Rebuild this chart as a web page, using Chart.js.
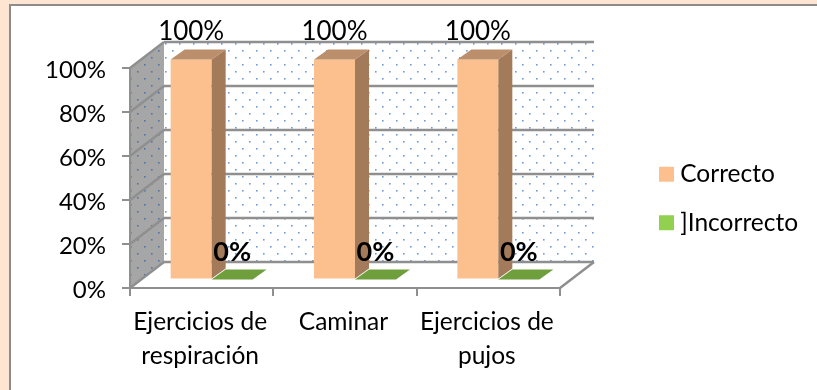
<!DOCTYPE html>
<html lang="es">
<head>
<meta charset="utf-8">
<title>Ejercicios</title>
<style>
  html, body { margin: 0; height: 100%; background: #fde5d2; overflow: hidden; }
  #marco { position: absolute; left: 9px; top: 4px; right: 0; bottom: 0; background: #fff; border-left: 2px solid #8c8c8c; border-top: 2px solid #8c8c8c; }
  #grafico { position: absolute; left: 0; top: 0; }
</style>
<script src="https://cdn.jsdelivr.net/npm/chart.js@4"></script>
</head>
<body>
<div id="marco"></div>
<canvas id="grafico" width="817" height="390"></canvas>
<script>
const categorias = [['Ejercicios de', 'respiración'], 'Caminar', ['Ejercicios de', 'pujos']]
const correcto = [100, 100, 100]
const incorrecto = [0, 0, 0]
const ticksY = [0, 20, 40, 60, 80, 100]

const FUENTE = 'Lato, Carlito, sans-serif'
const GRIS = '#8f8f8f'

// fondo: pared, suelo (desplazamiento de la caja) y barras (dentro de la caja)
const cajaX = 34, cajaY = -26
const barraX = 10, barraY = -8.5
const fondoX = 14, fondoY = -10

function puntos(pattern) {
    const t = document.createElement('canvas')
    t.width = 14
    t.height = 14
    const c = t.getContext('2d')
    c.fillStyle = pattern
    c.fillRect(11, 1, 1.6, 1.6)
    c.fillRect(4, 8, 1.6, 1.6)
    return t
}

function poligono(ctx, pts, relleno) {
    ctx.beginPath()
    pts.forEach((p, i) => i ? ctx.lineTo(p[0], p[1]) : ctx.moveTo(p[0], p[1]))
    ctx.closePath()
    ctx.fillStyle = relleno
    ctx.fill()
}

function linea(ctx, x1, y1, x2, y2) {
    ctx.beginPath()
    ctx.moveTo(x1, y1)
    ctx.lineTo(x2, y2)
    ctx.stroke()
}

const caja3d = {
    id: 'caja3d',
    afterLayout(chart) {
        // la leyenda va a la derecha, fuera de la zona de trazado
        const l = chart.legend
        l.left = 665 - chart.options.plugins.legend.labels.padding
        l.right = 817
        l.top = 100
        l.bottom = 297
    },
    beforeDraw(chart) {
        const ctx = chart.ctx
        const { left, right, top, bottom } = chart.chartArea
        const pared = [[left + cajaX, top + cajaY], [right + cajaX, top + cajaY], [right + cajaX, bottom + cajaY], [left + cajaX, bottom + cajaY]]
        const lateral = [[left, top], [left + cajaX, top + cajaY], [left + cajaX, bottom + cajaY], [left, bottom]]

        poligono(ctx, pared, ctx.createPattern(puntos('#6f9bd6'), 'repeat'))
        poligono(ctx, lateral, '#a6a6a6')
        poligono(ctx, lateral, ctx.createPattern(puntos('#4f74a8'), 'repeat'))

        ctx.save()
        ctx.strokeStyle = GRIS
        ctx.lineWidth = 2.5
        ticksY.forEach(v => {
            const y = chart.scales.y.getPixelForValue(v)
            linea(ctx, left, y, left + cajaX, y + cajaY)
            linea(ctx, left + cajaX, y + cajaY, right + cajaX, y + cajaY)
        })
        linea(ctx, right, bottom, right + cajaX, bottom + cajaY)
        ctx.restore()
    },
    beforeDatasetsDraw(chart) {
        chart.ctx.save()
        chart.ctx.translate(barraX, barraY)
    },
    afterDatasetsDraw(chart) {
        const ctx = chart.ctx
        const caras = [['#a37b5a', '#bb8f6b'], ['#6f9f3c', '#6f9f3c']]
        chart.data.datasets.forEach((d, i) => {
            chart.getDatasetMeta(i).data.forEach(b => {
                const x1 = b.x - b.width / 2, x2 = b.x + b.width / 2
                if (b.base - b.y > 0) {
                    poligono(ctx, [[x2, b.y], [x2 + fondoX, b.y + fondoY], [x2 + fondoX, b.base + fondoY], [x2, b.base]], caras[i][0])
                }
                poligono(ctx, [[x1, b.y], [x2, b.y], [x2 + fondoX, b.y + fondoY], [x1 + fondoX, b.y + fondoY]], caras[i][1])
            })
        })
        ctx.restore()
    },
    afterDraw(chart) {
        // etiquetas de valor sobre cada barra
        const ctx = chart.ctx
        ctx.save()
        ctx.textAlign = 'center'
        ctx.textBaseline = 'middle'
        ctx.fillStyle = '#000'
        chart.data.datasets.forEach((d, i) => {
            ctx.font = (i ? 'bold 27px ' : '26px ') + FUENTE
            chart.getDatasetMeta(i).data.forEach((b, j) => {
                ctx.fillText(d.data[j] + '%', b.x + barraX, b.y + barraY - 28 + (i ? 1 : 0))
            })
        })
        ctx.restore()
    }
}

new Chart(document.getElementById('grafico'), {
    type: 'bar',
    data: {
        labels: categorias,
        datasets: [
            { label: 'Correcto', data: correcto, backgroundColor: '#fbc08d', borderWidth: 0, clip: false },
            { label: ']Incorrecto', data: incorrecto, backgroundColor: '#92d050', borderWidth: 0, clip: false }
        ]
    },
    options: {
        responsive: false,
        animation: false,
        layout: { padding: { left: 10, top: 68, right: 257, bottom: 0 } },
        datasets: { bar: { categoryPercentage: 0.572, barPercentage: 1 } },
        plugins: {
            tooltip: { enabled: false },
            legend: {
                position: 'chartArea',
                onClick: null,
                labels: {
                    // caja pequeña con trazo grueso: 15px de cuadro con el texto más cerca
                    boxWidth: 3,
                    boxHeight: 3,
                    padding: 24,
                    color: '#000',
                    font: { family: FUENTE, size: 24.5 },
                    generateLabels: chart => Chart.defaults.plugins.legend.labels.generateLabels(chart)
                        .map(it => ({ ...it, lineWidth: 12, strokeStyle: it.fillStyle }))
                }
            }
        },
        scales: {
            x: {
                afterFit: s => { s.height = 102 },
                grid: { drawOnChartArea: false, color: GRIS, lineWidth: 2, tickLength: 8 },
                border: { color: GRIS, width: 2 },
                ticks: { color: '#000', maxRotation: 0, padding: 10, labelOffset: -1.5, font: { family: FUENTE, size: 24.5, lineHeight: 1.35 } }
            },
            y: {
                min: 0,
                max: 100,
                afterFit: s => { s.width = 120 },
                afterBuildTicks: s => { s.ticks = ticksY.map(v => ({ value: v })) },
                grid: { drawOnChartArea: false, color: GRIS, lineWidth: 2, tickLength: 8 },
                border: { color: GRIS, width: 2 },
                ticks: { color: '#000', padding: 16, labelOffset: 2, callback: v => v + '%', font: { family: FUENTE, size: 24 } }
            }
        }
    },
    plugins: [caja3d]
})
</script>
</body>
</html>
